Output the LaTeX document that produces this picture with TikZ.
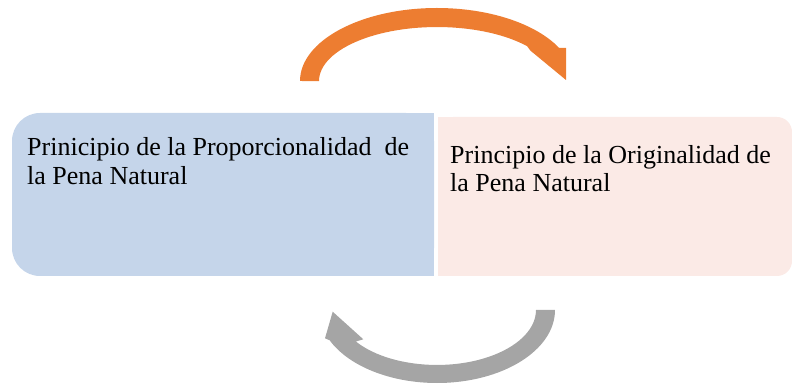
\documentclass[tikz,border=0pt]{standalone}
\usepackage{fontspec}
\setmainfont{Liberation Serif}
\newfontfamily\letratimes{Liberation Serif}
\definecolor{cajaazul}{HTML}{C5D5EA}
\definecolor{cajarosa}{HTML}{FBEAE6}
\definecolor{flechanaranja}{HTML}{ED7D31}
\definecolor{flechagris}{HTML}{A5A5A5}
\tikzset{texto/.style={anchor=base west, inner sep=0pt, align=left,
    font=\letratimes\fontsize{26}{28.5}\selectfont}}
\begin{document}
\begin{tikzpicture}[x=1pt,y=1pt]
        \useasboundingbox (0,0) rectangle (792,383);
        \def\cx{437} \def\ay{302} \def\by{73}
        \fill[cajaazul, rounded corners=28] (12,107) rectangle (434,270);
        \fill[cajaazul] (300,107) rectangle (434,270);
        \fill[cajarosa, rounded corners=15] (438,107) rectangle (792,266);
        \fill[cajarosa] (438,107) rectangle (600,266);
        \node[texto] (proporcionalidad) at (27,198.7) {Prinicipio de la Proporcionalidad \ de\\la Pena Natural};
        \node[texto] (originalidad) at (450,191.3) {Principio de la Originalidad de\\la Pena Natural};

        \fill[flechanaranja] (300,\ay) arc[start angle=180, end angle=27.1, x radius=137, y radius=73]
          -- (566,335) -- (566,303) coordinate (puntaA) -- (530.5,332.3)
          -- (527,336.9) arc[start angle=40.3, end angle=180, x radius=118, y radius=54] -- cycle;
        \fill[flechagris] (555,\by) arc[start angle=0, end angle=-155.5, x radius=118, y radius=73]
          -- (325,44.7) -- (332.7,71.3) coordinate (puntaB) -- (363.3,43.7)
          -- (355.9,41.5) arc[start angle=-145, end angle=0, x radius=99, y radius=55] -- cycle;
      \end{tikzpicture}
\end{document}
